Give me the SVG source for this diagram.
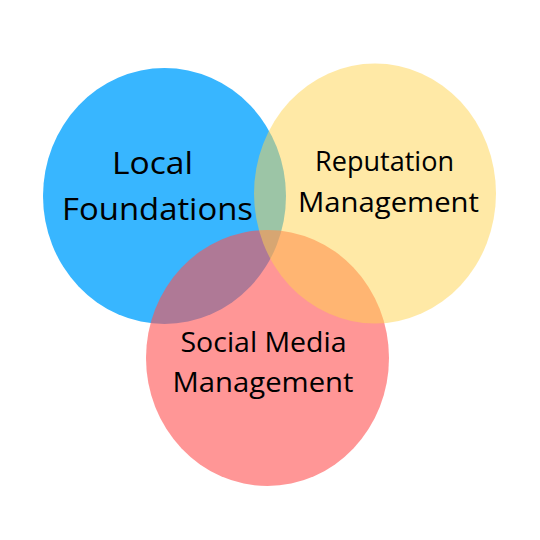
<svg xmlns="http://www.w3.org/2000/svg" width="540" height="540" viewBox="0 0 540 540">
  <style>
    .lbl { font-family: "Open Sans", "Noto Sans", sans-serif; fill: #000; text-anchor: middle; }
    .big { font-size: 31px; }
    .mid { font-size: 27px; }
  </style>
  <rect width="540" height="540" fill="#ffffff"/>
  <g id="local-foundations">
    <ellipse cx="164.5" cy="196" rx="121.5" ry="128" fill="#38b6ff"/>
  </g>
  <g id="social-media-management">
    <ellipse cx="267.5" cy="358" rx="121.5" ry="128" fill="#ff5050" fill-opacity="0.6"/>
  </g>
  <g id="reputation-management">
    <ellipse cx="375" cy="193.5" rx="121" ry="130" fill="#ffd34d" fill-opacity="0.5"/>
  </g>
  <g id="labels">
    <text class="lbl big" x="152.5" y="174" textLength="81" lengthAdjust="spacingAndGlyphs">Local</text>
    <text class="lbl big" x="157.5" y="220" textLength="191" lengthAdjust="spacingAndGlyphs">Foundations</text>
    <text class="lbl mid" x="384.5" y="171" textLength="139" lengthAdjust="spacingAndGlyphs">Reputation</text>
    <text class="lbl mid" x="388.5" y="211.5" textLength="181" lengthAdjust="spacingAndGlyphs">Management</text>
    <text class="lbl mid" x="263.5" y="351.5" textLength="166" lengthAdjust="spacingAndGlyphs">Social Media</text>
    <text class="lbl mid" x="263" y="391.5" textLength="181" lengthAdjust="spacingAndGlyphs">Management</text>
  </g>
</svg>
